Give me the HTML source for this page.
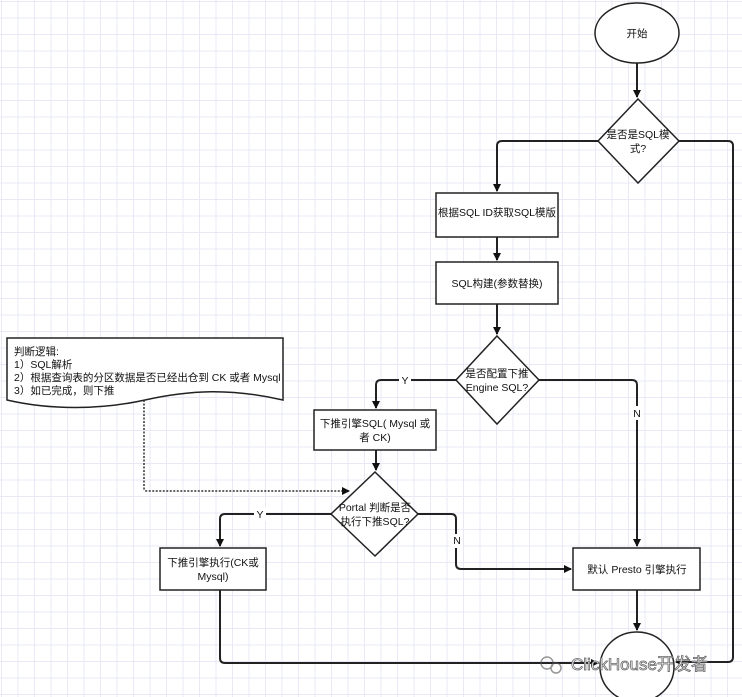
<!DOCTYPE html>
<html><head><meta charset="utf-8"><style>
html,body{margin:0;padding:0;}
body{width:742px;height:697px;overflow:hidden;background-color:#fff;
background-image:linear-gradient(to right,#e8e8f7 1px,transparent 1px),linear-gradient(to bottom,#e8e8f7 1px,transparent 1px);
background-size:16.5px 16.5px;background-position:1px 1px;}
svg{position:absolute;left:0;top:0}
text{font-family:"Liberation Sans","Noto Sans CJK SC",sans-serif;font-size:10.5px;fill:#111;}
</style></head><body>
<svg width="742" height="697" viewBox="0 0 742 697">
<defs><marker id="a" markerWidth="8" markerHeight="8" refX="7" refY="4" orient="auto" markerUnits="userSpaceOnUse"><path d="M0,0 L8,4 L0,8 Z" fill="#111"/></marker></defs>
<g fill="#fff" stroke="#222" stroke-width="1.5">
<ellipse cx="637" cy="33" rx="42" ry="30"/>
<polygon points="638,99 679,141 638,183 598,141"/>
<rect x="436" y="193" width="122" height="44"/>
<rect x="436" y="262" width="122" height="42"/>
<polygon points="497,336 539,380 497,424 456,380"/>
<rect x="314" y="410" width="122" height="40"/>
<polygon points="375,472 418,514 375,556 331,514"/>
<rect x="160" y="548" width="106" height="42"/>
<rect x="573" y="548" width="127" height="42"/>
<ellipse cx="637" cy="667" rx="37" ry="35"/>
<path d="M7,338 L283,338 L283,400 C230,388 190,390 145,400 C100,410 50,410 7,400 Z"/>
</g>
<g fill="none" stroke="#222" stroke-width="2">
<path d="M637,63 L637,97" marker-end="url(#a)"/>
<path d="M598,141 L502,141 Q497,141 497,146 L497,191" marker-end="url(#a)"/>
<path d="M497,237 L497,260" marker-end="url(#a)"/>
<path d="M497,304 L497,334" marker-end="url(#a)"/>
<path d="M679,141 L728,141 Q733,141 733,146 L733,657 Q733,662 728,662 L676,662" marker-end="url(#a)"/>
<path d="M456,380 L381,380 Q376,380 376,385 L376,408" marker-end="url(#a)"/>
<path d="M539,380 L632,380 Q637,380 637,385 L637,546" marker-end="url(#a)"/>
<path d="M376,450 L376,470" marker-end="url(#a)"/>
<path d="M331,514 L225,514 Q220,514 220,519 L220,546" marker-end="url(#a)"/>
<path d="M418,514 L451,514 Q456,514 456,519 L456,564 Q456,569 461,569 L571,569" marker-end="url(#a)"/>
<path d="M637,590 L637,630" marker-end="url(#a)"/>
<path d="M220,590 L220,658 Q220,663 225,663 L598,663" marker-end="url(#a)"/>
</g>
<path d="M144,400 L144,488 Q144,491 147,491 L349,491" fill="none" stroke="#333" stroke-width="1.5" stroke-dasharray="2,1.5" marker-end="url(#a)"/>
<g fill="#fff"><rect x="399" y="373" width="12" height="14"/><rect x="631" y="406" width="12" height="14"/><rect x="254" y="507" width="12" height="14"/><rect x="451" y="534" width="12" height="14"/></g>
<text x="405" y="384" text-anchor="middle">Y</text>
<text x="637" y="417" text-anchor="middle">N</text>
<text x="260" y="518" text-anchor="middle">Y</text>
<text x="457" y="544" text-anchor="middle">N</text>
<g text-anchor="middle">
<text x="637" y="37">开始</text>
<text x="638" y="138">是否是SQL模</text><text x="638" y="152">式?</text>
<text x="497" y="216">根据SQL ID获取SQL模版</text>
<text x="497" y="287">SQL构建(参数替换)</text>
<text x="497" y="377">是否配置下推</text><text x="497" y="391">Engine SQL?</text>
<text x="375" y="427">下推引擎SQL( Mysql 或</text><text x="375" y="441">者 CK)</text>
<text x="375" y="511">Portal 判断是否</text><text x="375" y="525">执行下推SQL?</text>
<text x="213" y="566">下推引擎执行(CK或</text><text x="213" y="580">Mysql)</text>
<text x="637" y="573">默认 Presto 引擎执行</text>
</g>
<text x="14" y="355">判断逻辑:</text>
<text x="14" y="368">1）SQL解析</text>
<text x="14" y="381">2）根据查询表的分区数据是否已经出仓到 CK 或者 Mysql</text>
<text x="14" y="394">3）如已完成，则下推</text>
<g opacity="0.6"><circle cx="547" cy="663" r="6" fill="none" stroke="#555" stroke-width="1.5"/><circle cx="556" cy="668" r="5" fill="none" stroke="#555" stroke-width="1.5"/></g>
<text x="571" y="670" style="font-size:17px;fill:#fff;stroke:#666;stroke-width:0.8">ClickHouse开发者</text>
</svg>
</body></html>
